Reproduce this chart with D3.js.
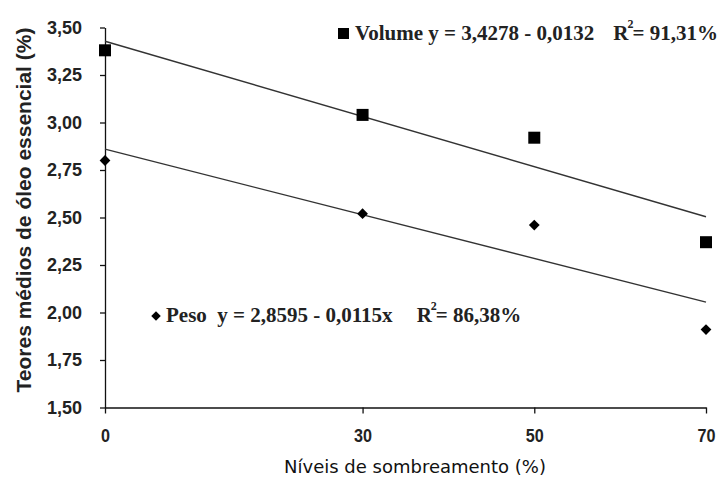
<!DOCTYPE html>
<html>
  <head>
    <script src="https://cdn.jsdelivr.net/npm/d3@7"></script>
    <style>
      body { margin: 0; background: #fff; }
      text { fill: #222; }
    </style>
  </head>
  <body>
    <svg id="chart" width="722" height="490"></svg>
    <script>
    var niveis = [0, 30, 50, 70];
    var volume = [3.38, 3.04, 2.92, 2.37];
    var peso = [2.80, 2.52, 2.46, 1.91];
    var yTicks = [1.50, 1.75, 2.00, 2.25, 2.50, 2.75, 3.00, 3.25, 3.50];
    // regression coefficients [intercept, slope]
    var volumeFit = [3.4278, -0.0132];
    var pesoFit = [2.8595, -0.0115];

    var svg = d3.select("#chart");
    var x = d3.scaleLinear().domain([0, 70]).range([105, 706]);
    var y = d3.scaleLinear().domain([1.5, 3.5]).range([407.5, 27.5]);
    var comma = function(d){ return d3.format(".2f")(d).replace(".", ","); };

    var yAxis = svg.append("g")
      .attr("transform", "translate(105,0)")
      .call(d3.axisLeft(y).tickValues(yTicks).tickFormat(comma).tickSize(5).tickSizeOuter(0).tickPadding(18));
    yAxis.selectAll("text")
      .style("font", "bold 18px 'Liberation Sans', Arial, sans-serif").style("fill", "#222");

    var xAxis = svg.append("g")
      .attr("transform", "translate(0,407.5)")
      .call(d3.axisBottom(x).tickValues(niveis).tickSize(6).tickSizeOuter(0).tickPadding(15));
    // narrow digits like the original
    xAxis.selectAll("text")
      .attr("transform", "scale(0.85,1)")
      .style("font", "bold 19px 'Liberation Sans', Arial, sans-serif").style("fill", "#222");
    svg.selectAll(".domain, .tick line").attr("stroke", "#111").attr("stroke-width", 1.3);

    // regression lines
    [volumeFit, pesoFit].forEach(function(f){
      svg.append("line")
        .attr("x1", x(0)).attr("y1", y(f[0]))
        .attr("x2", x(70)).attr("y2", y(f[0] + f[1]*70))
        .attr("stroke", "#333").attr("stroke-width", 1.4);
    });

    svg.selectAll(".vol").data(volume).enter().append("rect")
      .attr("x", function(d, i){ return x(niveis[i]) - 6; })
      .attr("y", function(d){ return y(d) - 6; })
      .attr("width", 12).attr("height", 12).attr("fill", "#000");

    svg.selectAll(".peso").data(peso).enter().append("path")
      .attr("d", d3.symbol().type(d3.symbolSquare).size(58))
      .attr("transform", function(d, i){ return "translate(" + x(niveis[i]) + "," + y(d) + ") rotate(45)"; })
      .attr("fill", "#000");

    // equation labels
    function equation(px, py, marker, label, eq, gap, r2){
      var g = svg.append("g").attr("transform", "translate(" + px + "," + py + ")");
      if(marker == "square"){
        g.append("rect").attr("x", -17).attr("y", -12).attr("width", 11).attr("height", 11).attr("fill", "#000");
      } else {
        g.append("path").attr("d", d3.symbol().type(d3.symbolSquare).size(45))
          .attr("transform", "translate(-10,-6) rotate(45)").attr("fill", "#000");
      }
      var t = g.append("text").style("font", "bold 21px 'Liberation Serif', 'Times New Roman', serif");
      t.append("tspan").text(label + eq);
      t.append("tspan").attr("dx", gap).text("R");
      t.append("tspan").attr("dx", -1).attr("dy", -12).style("font-size", "12px").text("2");
      t.append("tspan").attr("dx", -1).attr("dy", 12).text("= " + r2);
    }
    equation(355, 40, "square", "Volume ", "y = 3,4278 - 0,0132", 19, "91,31%");
    equation(166, 322, "diamond", "Peso\u00a0 ", "y = 2,8595 - 0,0115x", 24, "86,38%");

    svg.append("text")
      .attr("transform", "translate(31,210) rotate(-90)")
      .attr("text-anchor", "middle")
      .style("font", "bold 21px 'Liberation Sans', Arial, sans-serif")
      .text("Teores médios de óleo essencial (%)");

    svg.append("text")
      .attr("x", 415).attr("y", 473)
      .attr("text-anchor", "middle")
      .style("font", "18px 'DejaVu Sans', Verdana, sans-serif")
      .style("fill", "#111")
      .text("Níveis de sombreamento (%)");
    </script>
  </body>
</html>
